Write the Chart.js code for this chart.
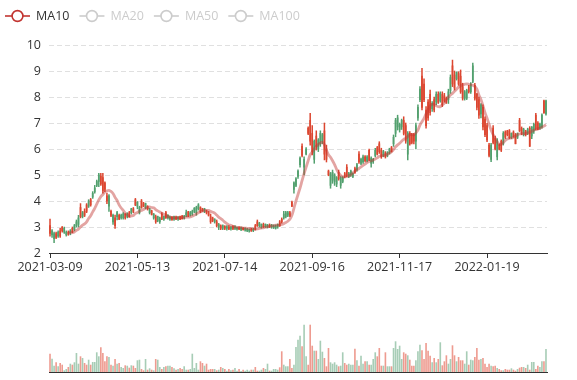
<!DOCTYPE html>
<html>
<head>
<meta charset="utf-8">
<script src="https://cdn.jsdelivr.net/npm/chart.js@4/dist/chart.umd.min.js"></script>
<style>
  html, body { margin: 0; padding: 0; background: #ffffff; }
  #wrap { position: relative; width: 577px; height: 380px; overflow: hidden; }
  #mainChart { position: absolute; left: 0; top: 0; }
  #volChart { position: absolute; left: 0; top: 300px; }
</style>
</head>
<body>
<div id="wrap">
  <canvas id="mainChart" width="577" height="300" style="width:577px;height:300px"></canvas>
  <canvas id="volChart" width="577" height="80" style="width:577px;height:80px"></canvas>
</div>
<script>
// ---------------- DATA ----------------
const dates = [
'2021-03-09','2021-03-10','2021-03-11','2021-03-12','2021-03-15','2021-03-16','2021-03-17','2021-03-18','2021-03-19',
'2021-03-22','2021-03-23','2021-03-24','2021-03-25','2021-03-26','2021-03-29','2021-03-30','2021-03-31',
'2021-04-01','2021-04-02','2021-04-06','2021-04-07','2021-04-08','2021-04-09','2021-04-12','2021-04-13','2021-04-14',
'2021-04-15','2021-04-16','2021-04-19','2021-04-20','2021-04-21','2021-04-22','2021-04-23','2021-04-26','2021-04-27',
'2021-04-28','2021-04-29','2021-04-30','2021-05-06','2021-05-07','2021-05-10','2021-05-11','2021-05-12',
'2021-05-13','2021-05-14','2021-05-17','2021-05-18','2021-05-19','2021-05-20','2021-05-21','2021-05-24','2021-05-25',
'2021-05-26','2021-05-27','2021-05-28','2021-05-31','2021-06-01','2021-06-02','2021-06-03','2021-06-04','2021-06-07',
'2021-06-08','2021-06-09','2021-06-10','2021-06-11','2021-06-15','2021-06-16','2021-06-17','2021-06-18','2021-06-21',
'2021-06-22','2021-06-23','2021-06-24','2021-06-25','2021-06-28','2021-06-29','2021-06-30','2021-07-01','2021-07-02',
'2021-07-05','2021-07-06','2021-07-07','2021-07-08','2021-07-09','2021-07-12','2021-07-13',
'2021-07-14','2021-07-15','2021-07-16','2021-07-19','2021-07-20','2021-07-21','2021-07-22','2021-07-23','2021-07-26',
'2021-07-27','2021-07-28','2021-07-29','2021-07-30','2021-08-02','2021-08-03','2021-08-04','2021-08-05','2021-08-06',
'2021-08-12','2021-08-13','2021-08-16','2021-08-17','2021-08-18','2021-08-19','2021-08-20','2021-08-23','2021-08-24',
'2021-08-25','2021-08-26','2021-08-27','2021-08-30','2021-08-31','2021-09-01','2021-09-02','2021-09-03','2021-09-06',
'2021-09-07','2021-09-08','2021-09-09','2021-09-10','2021-09-13','2021-09-14','2021-09-15',
'2021-09-16','2021-09-17','2021-09-20','2021-09-21','2021-09-22','2021-09-23','2021-09-24','2021-09-27','2021-09-28',
'2021-09-29','2021-09-30','2021-10-04','2021-10-05','2021-10-06','2021-10-07','2021-10-08','2021-10-11','2021-10-12',
'2021-10-13','2021-10-14','2021-10-15','2021-10-18','2021-10-19','2021-10-20','2021-10-21','2021-10-22','2021-10-25',
'2021-10-26','2021-10-27','2021-10-28','2021-10-29','2021-11-01','2021-11-02','2021-11-03','2021-11-04','2021-11-05',
'2021-11-08','2021-11-09','2021-11-10','2021-11-11','2021-11-12','2021-11-15','2021-11-16',
'2021-11-17','2021-11-18','2021-11-19','2021-11-22','2021-11-23','2021-11-24','2021-11-25','2021-11-26','2021-11-29',
'2021-11-30','2021-12-01','2021-12-02','2021-12-03','2021-12-06','2021-12-07','2021-12-08','2021-12-09','2021-12-10',
'2021-12-13','2021-12-14','2021-12-15','2021-12-16','2021-12-17','2021-12-20','2021-12-21','2021-12-22','2021-12-23',
'2021-12-24','2021-12-27','2021-12-28','2021-12-29','2021-12-30','2022-01-04','2022-01-05','2022-01-06','2022-01-07',
'2022-01-10','2022-01-11','2022-01-12','2022-01-13','2022-01-14','2022-01-17','2022-01-18',
'2022-01-19','2022-01-20','2022-01-21','2022-01-24','2022-01-25','2022-01-26','2022-01-27','2022-01-28','2022-02-07',
'2022-02-08','2022-02-09','2022-02-10','2022-02-11','2022-02-14','2022-02-15','2022-02-16','2022-02-17','2022-02-18',
'2022-02-21','2022-02-22','2022-02-23','2022-02-24','2022-02-25','2022-02-28','2022-03-01','2022-03-02','2022-03-03',
'2022-03-04','2022-03-07','2022-03-08'
];

const openPrices = [
3.05,2.7,2.55,2.75,2.65,2.85,3.0,2.8,2.7,2.8, 2.78,2.95,2.9,3.05,3.1,3.75,3.4,3.6,3.85,3.8,
4.05,4.15,4.35,4.6,4.75,4.95,4.9,4.7,4.2,3.8, 3.6,3.2,3.35,3.4,3.45,3.35,3.35,3.5,3.4,3.55,
3.55,3.7,4.05,3.8,3.55,4.0,3.9,3.75,3.8,3.55, 3.62,3.35,3.4,3.25,3.2,3.5,3.3,3.55,3.35,3.3,
3.38,3.3,3.38,3.3,3.4,3.42,3.35,3.45,3.58,3.45, 3.5,3.6,3.55,3.7,3.75,3.7,3.6,3.62,3.55,3.4,
3.35,3.2,3.2,3.0,3.05,2.95,3.02,2.95,3.0,2.93, 3.02,2.95,2.92,2.98,2.9,2.96,2.88,2.85,2.84,2.92,
2.86,3.05,3.2,3.05,3.0,3.1,3.02,3.0,3.08,3.0, 2.98,2.95,3.0,3.2,3.3,3.35,3.4,3.45,3.55,3.95,
4.45,4.6,4.95,5.4,6.1,5.3,5.8,6.8,7.1,6.6, 5.6,6.5,6.0,6.2,6.3,6.7,6.0,5.15,4.6,4.8,
4.75,4.65,5.1,4.6,4.75,5.05,5.3,4.95,5.0,4.95, 5.25,5.2,5.8,5.45,5.5,5.7,5.55,5.95,5.45,5.5,
5.75,6.05,6.2,5.95,5.75,5.85,5.75,5.85,6.05,6.2, 6.6,6.85,6.75,6.85,7.1,6.9,5.8,6.6,6.55,6.55,
6.3,7.2,7.9,8.8,8.5,7.5,7.8,8.1,7.55,7.9, 7.8,8.1,7.85,8.1,8.05,7.95,7.9,8.25,9.2,8.85,
8.7,8.9,8.8,8.4,7.95,7.95,8.4,8.2,8.6,8.45, 8.1,7.9,7.35,7.6,7.15,6.9,6.15,5.6,6.8,6.4,
5.7,6.15,6.3,6.2,6.65,6.7,6.7,6.45,6.65,6.55, 6.45,7.1,6.8,6.55,6.7,6.6,6.8,6.5,6.7,7.3,
7.0,6.8,6.85,7.85,7.35
];

const closePrices = [
2.75,2.85,2.75,2.6,2.8,2.65,2.85,2.95,2.8,2.72, 2.85,2.8,3.05,3.2,3.35,3.4,3.55,3.45,3.6,4.0,
3.85,4.3,4.5,4.75,5.0,4.65,4.4,4.45,4.0,4.2, 3.45,3.45,3.05,3.55,3.3,3.45,3.5,3.35,3.5,3.4,
3.7,3.6,3.85,3.95,3.75,3.75,3.8,3.9,3.7,3.7, 3.48,3.5,3.2,3.4,3.35,3.3,3.4,3.35,3.45,3.38,
3.28,3.4,3.3,3.38,3.3,3.32,3.42,3.55,3.42,3.55, 3.6,3.72,3.75,3.85,3.6,3.62,3.7,3.55,3.45,3.2,
3.25,3.3,3.05,3.1,2.95,3.05,2.95,3.02,2.92,3.0, 2.93,3.02,2.98,2.92,2.98,2.9,2.95,2.92,2.9,2.85,
2.92,2.9,3.05,3.15,3.1,3.0,3.1,3.08,3.0,3.08, 3.05,3.05,3.1,3.05,3.2,3.5,3.55,3.55,3.45,3.8,
4.7,4.85,5.15,5.65,5.75,5.6,6.0,6.6,6.3,5.9, 6.3,6.1,6.35,6.6,6.55,5.8,5.6,5.0,5.05,5.1,
5.0,4.9,4.85,4.9,4.9,4.95,5.0,5.05,5.15,5.05, 5.1,5.4,5.5,5.6,5.7,5.55,5.7,5.58,5.65,5.6,
5.95,5.8,5.9,5.7,5.9,5.7,5.85,6.0,5.9,6.45, 7.1,7.2,6.95,7.1,6.6,6.3,6.6,6.2,6.25,6.3,
6.9,7.6,8.3,7.6,7.9,6.9,7.2,7.4,7.75,7.5, 8.1,7.8,8.15,7.7,7.85,7.8,8.2,8.75,8.5,8.35,
8.95,8.5,8.2,7.95,8.2,8.25,8.2,8.5,9.2,7.95, 7.6,7.3,7.7,6.85,6.55,6.35,5.75,6.15,6.25,6.0,
6.35,6.0,5.95,6.6,6.45,6.55,6.45,6.6,6.5,6.2, 6.6,6.7,6.6,6.75,6.55,6.75,6.1,6.85,6.95,6.8,
6.75,6.95,7.3,7.4,7.85
];

const lowPrices = [
2.65,2.6,2.4,2.55,2.6,2.6,2.8,2.75,2.65,2.68, 2.7,2.78,2.85,3.0,3.0,3.35,3.35,3.4,3.55,3.75,
3.8,4.1,4.3,4.55,4.55,4.6,4.3,4.36,3.9,3.6, 3.4,3.1,2.95,3.27,3.28,3.3,3.3,3.3,3.35,3.38,
3.5,3.55,3.82,3.7,3.5,3.72,3.78,3.7,3.65,3.5, 3.46,3.3,3.14,3.2,3.14,3.28,3.25,3.33,3.3,3.25,
3.25,3.25,3.28,3.25,3.28,3.3,3.3,3.4,3.4,3.42, 3.45,3.55,3.45,3.65,3.55,3.6,3.55,3.5,3.42,3.14,
3.2,3.15,3.0,2.9,2.9,2.9,2.9,2.88,2.9,2.88, 2.9,2.9,2.88,2.9,2.86,2.88,2.84,2.82,2.8,2.83,
2.82,2.88,3.02,3.0,2.95,2.98,2.98,2.96,2.98,2.95, 2.94,2.92,2.95,3.02,3.15,3.3,3.35,3.4,3.4,3.78,
4.3,4.55,4.87,5.3,5.7,5.0,5.77,6.55,6.15,5.77, 5.45,5.96,5.9,6.1,6.2,5.58,5.5,4.97,4.49,4.68,
4.6,4.55,4.8,4.49,4.7,4.9,4.94,4.9,4.95,4.9, 5.06,5.15,5.45,5.4,5.45,5.5,5.5,5.55,5.3,5.45,
5.7,5.77,5.83,5.64,5.7,5.65,5.7,5.8,5.88,6.1, 6.47,6.73,6.65,6.75,6.54,6.22,5.58,6.15,6.2,6.2,
6.0,7.1,7.82,7.5,7.82,6.8,7.1,7.3,7.45,7.43, 7.7,7.75,7.8,7.63,7.8,7.75,7.75,8.14,8.4,8.27,
8.65,8.45,8.14,7.88,7.88,7.9,8.15,8.14,8.55,7.88, 7.5,7.18,7.2,6.73,6.47,6.28,5.7,5.51,6.2,5.96,
5.58,5.96,5.9,6.15,6.4,6.5,6.4,6.4,6.45,6.2, 6.4,6.67,6.55,6.5,6.5,6.55,6.1,6.4,6.6,6.73,
6.73,6.75,6.8,7.37,7.3
];

const highPrices = [
3.3,2.9,2.8,2.8,2.85,2.95,3.02,3.0,2.85,2.85, 2.9,3.0,3.1,3.27,3.45,3.9,3.6,3.7,3.9,4.05,
4.1,4.36,4.6,4.8,5.06,5.06,5.06,4.74,4.3,4.25, 3.65,3.5,3.46,3.6,3.5,3.5,3.55,3.52,3.55,3.6,
3.72,3.75,4.1,3.98,3.8,4.06,3.95,3.92,3.82,3.72, 3.65,3.52,3.46,3.42,3.38,3.55,3.42,3.6,3.48,3.42,
3.4,3.42,3.42,3.4,3.42,3.45,3.45,3.65,3.6,3.6, 3.65,3.75,3.8,3.9,3.78,3.72,3.72,3.65,3.6,3.5,
3.38,3.32,3.27,3.14,3.08,3.08,3.05,3.05,3.05,3.02, 3.05,3.05,3.0,3.02,3.0,2.98,2.97,2.95,2.93,2.95,
2.95,3.1,3.27,3.18,3.12,3.15,3.12,3.1,3.12,3.1, 3.08,3.08,3.12,3.25,3.35,3.6,3.6,3.6,3.6,4.0,
4.74,4.9,5.2,5.7,6.2,5.7,6.05,6.85,7.37,6.9, 6.35,6.7,6.4,6.7,6.6,7.0,6.15,5.19,5.1,5.19,
5.05,4.94,5.19,4.94,4.94,5.1,5.4,5.1,5.19,5.08, 5.3,5.45,5.9,5.65,5.77,5.75,5.75,6.0,5.7,5.64,
6.03,6.1,6.28,6.03,5.95,5.9,5.9,6.03,6.1,6.54, 7.18,7.3,7.0,7.15,7.24,7.0,6.67,6.67,6.6,6.6,
7.0,7.7,8.4,9.1,8.7,7.63,7.9,8.27,7.82,8.0, 8.2,8.2,8.2,8.2,8.14,8.0,8.3,8.85,9.42,9.0,
8.97,8.97,9.04,8.53,8.25,8.3,8.45,8.55,9.3,8.53, 8.14,8.0,7.75,7.7,7.24,6.99,6.22,6.22,6.9,6.5,
6.4,6.2,6.35,6.67,6.7,6.72,6.75,6.62,6.7,6.6, 6.62,7.18,6.85,6.8,6.72,6.8,6.86,6.86,7.0,7.37,
7.05,7.0,7.35,7.88,7.88
];

// MA10 values (no value for the first 9 trading days)
const ma10 = [
null,null,null,null,null,null,null,null,null,2.77,
2.78,2.78,2.81,2.87,2.92,3.00,3.07,3.12,3.20,3.33, 3.43,3.58,3.72,3.88,4.04,4.17,4.25,4.35,4.39,4.41,
4.37,4.29,4.14,4.02,3.85,3.73,3.64,3.53,3.48,3.40, 3.43,3.44,3.52,3.56,3.61,3.64,3.67,3.72,3.74,3.77,
3.75,3.74,3.67,3.62,3.58,3.53,3.49,3.44,3.41,3.38, 3.36,3.35,3.36,3.36,3.35,3.36,3.36,3.38,3.38,3.39,
3.42,3.46,3.50,3.55,3.58,3.61,3.64,3.64,3.64,3.60, 3.57,3.53,3.46,3.38,3.32,3.26,3.19,3.13,3.08,3.06,
3.03,3.00,2.99,2.97,2.98,2.96,2.96,2.95,2.95,2.94, 2.93,2.92,2.93,2.95,2.96,2.97,2.99,3.01,3.02,3.04,
3.05,3.07,3.07,3.08,3.10,3.13,3.17,3.22,3.30,3.45, 3.72,4.00,4.25,4.50,4.78,5.05,5.30,5.55,5.78,5.88,
6.00,6.10,6.18,6.23,6.26,6.17,5.95,5.78,5.68,5.55, 5.40,5.22,5.08,4.98,4.94,4.92,4.94,4.97,5.01,5.08,
5.15,5.20,5.25,5.31,5.37,5.42,5.48,5.52,5.55,5.58, 5.62,5.66,5.72,5.74,5.75,5.77,5.80,5.84,5.90,5.98,
6.08,6.16,6.22,6.30,6.37,6.41,6.48,6.55,6.56,6.54, 6.62,6.73,6.92,7.05,7.18,7.35,7.50,7.66,7.72,7.72,
7.66,7.63,7.63,7.70,7.76,7.90,8.00,8.08,8.14,8.22, 8.30,8.38,8.44,8.47,8.49,8.50,8.49,8.47,8.45,8.40,
8.30,8.08,7.90,7.66,7.40,7.18,6.95,6.73,6.55,6.42, 6.28,6.18,6.18,6.25,6.33,6.38,6.41,6.42,6.45,6.49,
6.55,6.58,6.58,6.59,6.60,6.62,6.64,6.68,6.72,6.75, 6.78,6.80,6.84,6.88,6.94
];

const volumes = [
18.3,13.3,6.3,9.7,5.7,9,7.3,1.7,3,5, 8.3,7.3,9.7,19,8.3,15.7,14,9,7.3,12.3,
7.3,10,10,19.7,15.7,24.7,19,10.7,15.7,15, 7.3,6.3,13,8.3,9,5,4,6.7,6.3,4.3,
6.7,6.3,4,11.7,12.3,3,1.7,13,2.3,3.7, 2.3,1.7,13,12.3,5,3,5,5.7,6.3,6.3,
5,3.7,2.3,3,4,3,5.7,2.3,2.3,3, 18.3,4,9,2.3,10.7,9,6.3,8.3,2.3,3,
3,3,1.7,2.3,5,4,3,1.3,3,1.7, 2.3,4,1.3,3,1,2.3,1.3,2.3,1.3,2.3,
2.3,5,1.3,1.3,2.3,4,3,8.3,1.3,1.3, 3,3,2.3,4.7,20.7,7.3,5.7,5.7,
13,4,7.3,25,32.3,36.3,25.7,47.3,15.7,7.3, 47.3,26.3,21.3,21.3,13,31.3,20.3,14,5.7,24,
9.7,8.3,9.7,7.3,5.7,6.3,19.7,9,7.3,8.3, 7.3,7.3,23.3,11.7,6.3,16.3,8.3,10.7,10.7,7.3,
7.3,13,19.7,15.7,24,6.3,6.3,19.7,5.7,5.7, 5.7,24,30.7,23,26.3,13,19.7,18.3,16.7,12.3,
6.3,6.3,11.7,20.7,27.3,21.7,13,29,21.3,16.3, 9.7,14,9.7,13,29.7,6.7,10.7,16.7,8.3,13,
26.7,16.7,10.7,15,11.7,11.7,8.3,20.7,7.3,12.3, 11.7,15,24,12.3,13,14,8.3,5,8.3,6.3,
5.7,6.3,4,3,1.7,1.7,3,2.3,2.3,3.7, 2.3,1.3,3,4.3,5,5,4,7.3,2.3,10,
10,3,6.3,5,10.7,10.7,23
];

const legendNames = ['MA10', 'MA20', 'MA50', 'MA100'];
const activeSeries = ['MA10'];
const priceTicks = [2, 3, 4, 5, 6, 7, 8, 9, 10];
const labelEvery = 43;

// ---------------- STYLE ----------------
const FONT = '"Open Sans", "Liberation Sans", sans-serif';
const UP = '#52a06e';
const DOWN = '#dc4630';
const UP_VOL = 'rgba(80,155,110,0.5)';
const DOWN_VOL = 'rgba(224,72,52,0.55)';

const isUp = closePrices.map((c, i) => c >= openPrices[i]);
const candleColor = isUp.map(u => u ? UP : DOWN);
const volColor = isUp.map(u => u ? UP_VOL : DOWN_VOL);
const wickData = lowPrices.map((l, i) => [l, highPrices[i]]);
const bodyData = openPrices.map((o, i) => [o, closePrices[i]]);

const legendPlugin = {
  id: 'maLegend',
  afterDraw(chart) {
    const ctx = chart.ctx;
    const y = 16;
    let x = 5;
    ctx.save();
    ctx.font = '12.5px ' + FONT;
    ctx.textBaseline = 'middle';
    ctx.textAlign = 'left';
    legendNames.forEach(name => {
      const on = activeSeries.includes(name);
      const col = on ? '#c23531' : '#cccccc';
      ctx.strokeStyle = col;
      ctx.lineWidth = 1.6;
      ctx.beginPath(); ctx.moveTo(x, y); ctx.lineTo(x + 25, y); ctx.stroke();
      ctx.beginPath(); ctx.arc(x + 12.5, y, 5.4, 0, Math.PI * 2);
      ctx.fillStyle = '#ffffff'; ctx.fill(); ctx.stroke();
      ctx.fillStyle = on ? '#333333' : '#cccccc';
      ctx.fillText(name, x + 31, y + 0.5);
      x += 31 + ctx.measureText(name).width + 10;
    });
    ctx.restore();
  }
};

new Chart(document.getElementById('mainChart'), {
  data: {
    labels: dates,
    datasets: [
      {
        type: 'line', label: 'MA10', data: ma10, order: 0,
        borderColor: 'rgba(194,53,49,0.45)', borderWidth: 2.8,
        pointRadius: 0, tension: 0.35, fill: false, spanGaps: false
      },
      {
        type: 'bar', label: 'body', data: bodyData, order: 1, grouped: false,
        backgroundColor: candleColor, barThickness: 1.05, borderWidth: 0
      },
      {
        type: 'bar', label: 'wick', data: wickData, order: 2, grouped: false,
        backgroundColor: candleColor, barThickness: 0.85, borderWidth: 0
      }
    ]
  },
  options: {
    responsive: false, animation: false, devicePixelRatio: 1,
    layout: { padding: { top: 45, right: 30, left: 0, bottom: 0 } },
    plugins: { legend: { display: false }, tooltip: { enabled: false } },
    scales: {
      x: {
        type: 'category', offset: true,
        afterFit: s => { s.height = 47; },
        grid: {
          display: true, drawOnChartArea: false, drawTicks: true, tickLength: 5, offset: false,
          color: c => (c.index % labelEvery === 0 ? '#333333' : 'rgba(0,0,0,0)')
        },
        border: { display: true, color: '#333333', width: 1 },
        ticks: {
          autoSkip: false, maxRotation: 0, minRotation: 0, padding: 2,
          color: '#333333', font: { family: FONT, size: 12.5 },
          callback: (v, i) => (i % labelEvery === 0 ? dates[i] : '')
        }
      },
      y: {
        min: priceTicks[0], max: priceTicks[priceTicks.length - 1],
        afterFit: s => { s.width = 49; },
        afterBuildTicks: s => { s.ticks = priceTicks.map(v => ({ value: v })); },
        grid: {
          drawTicks: false, lineWidth: 1,
          color: c => (c.tick && c.tick.value === priceTicks[0] ? 'rgba(0,0,0,0)' : '#e0e0e0')
        },
        border: { display: false, dash: [5, 3] },
        ticks: { padding: 8, color: '#333333', font: { family: FONT, size: 12.5 } }
      }
    }
  },
  plugins: [legendPlugin]
});

new Chart(document.getElementById('volChart'), {
  type: 'bar',
  data: {
    labels: dates,
    datasets: [{
      label: 'Volume', data: volumes, backgroundColor: volColor,
      barPercentage: 0.8, categoryPercentage: 1.0, borderWidth: 0
    }]
  },
  options: {
    responsive: false, animation: false, devicePixelRatio: 1,
    layout: { padding: { top: 12, right: 30, left: 49, bottom: 8 } },
    plugins: { legend: { display: false }, tooltip: { enabled: false } },
    scales: {
      x: {
        type: 'category', offset: true,
        afterFit: s => { s.height = 0; },
        grid: { display: false, drawTicks: false },
        border: { display: true, color: '#333333', width: 1 },
        ticks: { display: false }
      },
      y: { display: false, min: 0, max: 60 }
    }
  }
});
</script>
</body>
</html>
